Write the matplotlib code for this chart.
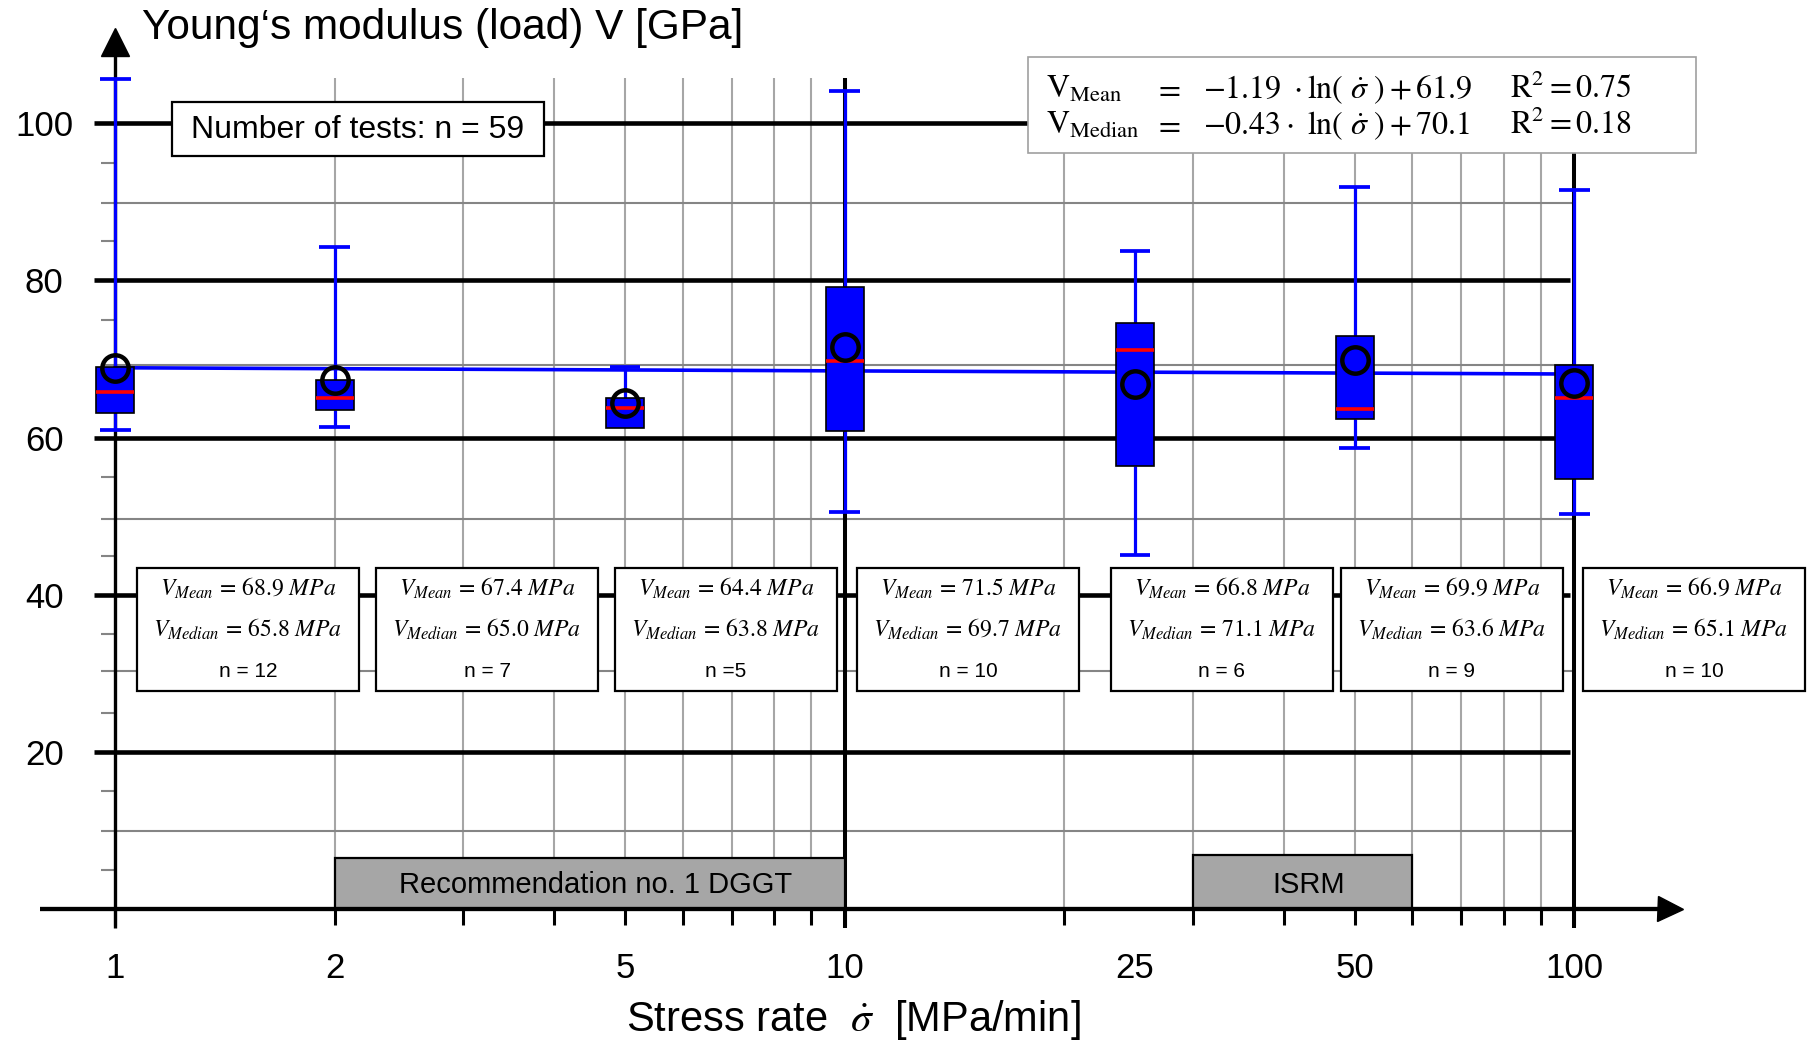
import matplotlib
matplotlib.use("Agg")
import matplotlib.pyplot as plt
from matplotlib.patches import Rectangle
from matplotlib.ticker import FixedLocator, NullFormatter

plt.rcParams['font.family'] = ['Liberation Sans', 'DejaVu Sans']
plt.rcParams['mathtext.fontset'] = 'stix'

# ---------------- data ----------------
rates = [1, 2, 5, 10, 25, 50, 100]
rate_labels = ['1', '2', '5', '10', '25', '50', '100']
q1 = [63.1, 63.5, 61.2, 60.9, 56.4, 62.4, 54.8]
q3 = [69.0, 67.4, 65.1, 79.2, 74.6, 73.0, 69.2]
whisker_lo = [61.0, 61.3, 61.2, 50.6, 45.1, 58.7, 50.3]
whisker_hi = [105.6, 84.2, 69.0, 104.1, 83.7, 91.9, 91.5]
means = [68.9, 67.4, 64.4, 71.5, 66.8, 69.9, 66.9]
medians = [65.8, 65.0, 63.8, 69.7, 71.1, 63.6, 65.1]
n_labels = ['n = 12', 'n = 7', 'n =5', 'n = 10', 'n = 6', 'n = 9', 'n = 10']
trend_x = [1, 100]
trend_y = [68.9, 68.1]
y_ticks = [20, 40, 60, 80, 100]
y_minor = [5, 15, 25, 35, 45, 55, 65, 75, 85, 95]
y_gray = [10, 30.3, 49.7, 69.3, 89.9]
x_minor = [2, 3, 4, 5, 6, 7, 8, 9, 20, 30, 40, 50, 60, 70, 80, 90]
x_decades = [1, 10, 100]
dggt_range = [2, 10]
isrm_range = [30, 60]

# ---------------- figure / axes ----------------
W, H = 1807, 1042
DEC = 729.5            # pixels per decade on the x axis
PXY = 7.86             # pixels per GPa on the y axis
fig = plt.figure(figsize=(W / 100, H / 100), dpi=100)


def fx(px):
    return px / W


def fy(py):
    return 1 - py / H


def xshift(x, px):
    """x value moved by px pixels along the log axis"""
    return x * 10 ** (px / DEC)


TOP = 105.7
ax = fig.add_axes([fx(115.2), fy(909.3), fx(1574.2) - fx(115.2), fy(909.3 - TOP * PXY) - fy(909.3)])
ax.set_xscale('log')
ax.set_xlim(1, 100)
ax.set_ylim(0, TOP)
for s in ax.spines.values():
    s.set_visible(False)
ax.patch.set_visible(False)

BLUE = '#0000ff'
RED = '#ff0000'
GRID_V = '#a6a6a6'
GRID_H = '#858585'

# grid
ax.vlines(x_minor, 0, TOP, color=GRID_V, lw=1.5, zorder=1, clip_on=False)
ax.hlines(y_gray, xshift(1, -14), 100, color=GRID_H, lw=1.5, zorder=1.1, clip_on=False)
ax.hlines(y_ticks, xshift(1, -21), xshift(100, -4.5), color='black', lw=3.3, zorder=1.5, clip_on=False)
ax.vlines(x_decades[1:], -2.4, TOP, color='black', lw=2.9, zorder=1.6, clip_on=False)

# standard ranges at the bottom
for (a, b), txt, h in [(dggt_range, 'Recommendation no. 1 DGGT', 6.5), (isrm_range, 'ISRM', 6.9)]:
    ax.add_patch(Rectangle((a, 0), b - a, h, facecolor='#a6a6a6', edgecolor='black',
                           lw=1.6, zorder=2, clip_on=False))
    ax.text(xshift((a * b) ** 0.5, 6), 3.1, txt, ha='center', va='center', fontsize=21, zorder=2.1)

# axes with arrows
ax.plot([xshift(1, -75), xshift(135.3, -8)], [0, 0], color='black', lw=3.1, zorder=2.5,
        clip_on=False, solid_capstyle='butt')
ax.plot([135.3], [0], marker='>', ms=18, color='black', zorder=2.5, clip_on=False)
ax.vlines([1], -2.4, 108.7, color='black', lw=2.4, zorder=2.5, clip_on=False)
ax.plot([1], [110.35], marker='^', ms=19.5, color='black', zorder=2.5, clip_on=False)

# ticks
ax.set_xticks(rates)
ax.set_xticklabels(rate_labels)
ax.xaxis.set_minor_locator(FixedLocator(x_decades + x_minor))
ax.xaxis.set_minor_formatter(NullFormatter())
ax.xaxis.remove_overlapping_locs = False
ax.tick_params(axis='x', which='major', length=0, pad=31, labelsize=25)
ax.tick_params(axis='x', which='minor', length=11.5, width=2.2, color='black', direction='out')
ax.set_yticks(y_ticks)
ax.set_yticklabels([str(v) for v in y_ticks])
ax.yaxis.set_minor_locator(FixedLocator(y_minor))
ax.yaxis.set_minor_formatter(NullFormatter())
ax.tick_params(axis='y', which='major', length=0, pad=51, labelsize=25)
ax.tick_params(axis='y', which='minor', length=10, width=1.5, color=GRID_H, direction='out')
for lbl in ax.get_yticklabels():
    lbl.set_ha('center')

# trend line of the means
ax.plot(trend_x, trend_y, color=BLUE, lw=2.6, zorder=3, clip_on=False)

# box plots
BOX = 0.026   # half box width in decades
CAP = 0.021   # half cap width in decades
for x, lo, a, b, hi, mu, md in zip(rates, whisker_lo, q1, q3, whisker_hi, means, medians):
    xl, xr = x * 10 ** -BOX, x * 10 ** BOX
    ax.vlines([x, x], [lo, b], [a, hi], color=BLUE, lw=2.3, zorder=3.5, clip_on=False)
    caps = [v for v, edge in ((lo, a), (hi, b)) if v != edge]
    ax.hlines(caps, x * 10 ** -CAP, x * 10 ** CAP, color=BLUE, lw=2.7, zorder=3.5, clip_on=False)
    ax.add_patch(Rectangle((xl, a), xr - xl, b - a, facecolor=BLUE, edgecolor='black',
                           lw=1.2, zorder=4, clip_on=False))
    ax.hlines([md], xl, xr, color=RED, lw=2.6, zorder=5, clip_on=False)
    ax.plot([x], [mu], marker='o', ms=19, mfc='none', mec='black', mew=3.2, zorder=6,
            clip_on=False)

# statistics boxes
box_left = [137, 376, 615, 857, 1111, 1341, 1583]
box_w, box_top, box_bot = 222, 568, 691
for left, mu, md, nl in zip(box_left, means, medians, n_labels):
    fig.patches.append(Rectangle((fx(left), fy(box_bot)), box_w / W, (box_bot - box_top) / H,
                                 transform=fig.transFigure, facecolor='white', edgecolor='black',
                                 lw=1.6, zorder=7))
    cx = fx(left + box_w / 2)
    fig.text(cx, fy(596), rf'$V_{{Mean}}\, =\, {mu:.1f}\ MPa$', ha='center', va='baseline',
             fontsize=17, zorder=8)
    fig.text(cx, fy(637), rf'$V_{{Median}}\, =\, {md:.1f}\ MPa$', ha='center', va='baseline',
             fontsize=17, zorder=8)
    fig.text(cx, fy(677), nl, ha='center', va='baseline', fontsize=15, zorder=8)

# number of tests
fig.patches.append(Rectangle((fx(172), fy(155.7)), 372 / W, 54 / H, transform=fig.transFigure,
                             facecolor='white', edgecolor='black', lw=1.6, zorder=7))
fig.text(fx(358), fy(138), 'Number of tests: n = 59', ha='center', va='baseline', fontsize=23,
         zorder=8)

# regression equations
fig.patches.append(Rectangle((fx(1028), fy(152.7)), 668 / W, 95.4 / H, transform=fig.transFigure,
                             facecolor='white', edgecolor='#a0a0a0', lw=1.2, zorder=7))
eq_rows = [
    (98, r'$\mathrm{V_{Mean}}$', r'$-1.19\ \cdot\mathrm{ln}(\ \dot{\sigma}\ ) + 61.9$', r'$\mathrm{R^2} = 0.75$'),
    (134, r'$\mathrm{V_{Median}}$', r'$-0.43\cdot\ \mathrm{ln}(\ \dot{\sigma}\ ) + 70.1$', r'$\mathrm{R^2} = 0.18$'),
]
for yb, lhs, rhs, r2 in eq_rows:
    fig.text(fx(1046), fy(yb), lhs, ha='left', va='baseline', fontsize=23, zorder=8)
    fig.text(fx(1154), fy(yb), r'$=$', ha='left', va='baseline', fontsize=23, zorder=8)
    fig.text(fx(1203), fy(yb), rhs, ha='left', va='baseline', fontsize=23, zorder=8)
    fig.text(fx(1510), fy(yb), r2, ha='left', va='baseline', fontsize=23, zorder=8)

# axis titles
fig.text(fx(142), fy(39.5), 'Young\u2018s modulus (load) V [GPa]', ha='left', va='baseline',
         fontsize=30.5)
fig.text(fx(853), fy(1031), r'Stress rate  $\dot{\sigma}$  [MPa/min]', ha='center',
         va='baseline', fontsize=30)

fig.savefig('out.png', dpi=100)
